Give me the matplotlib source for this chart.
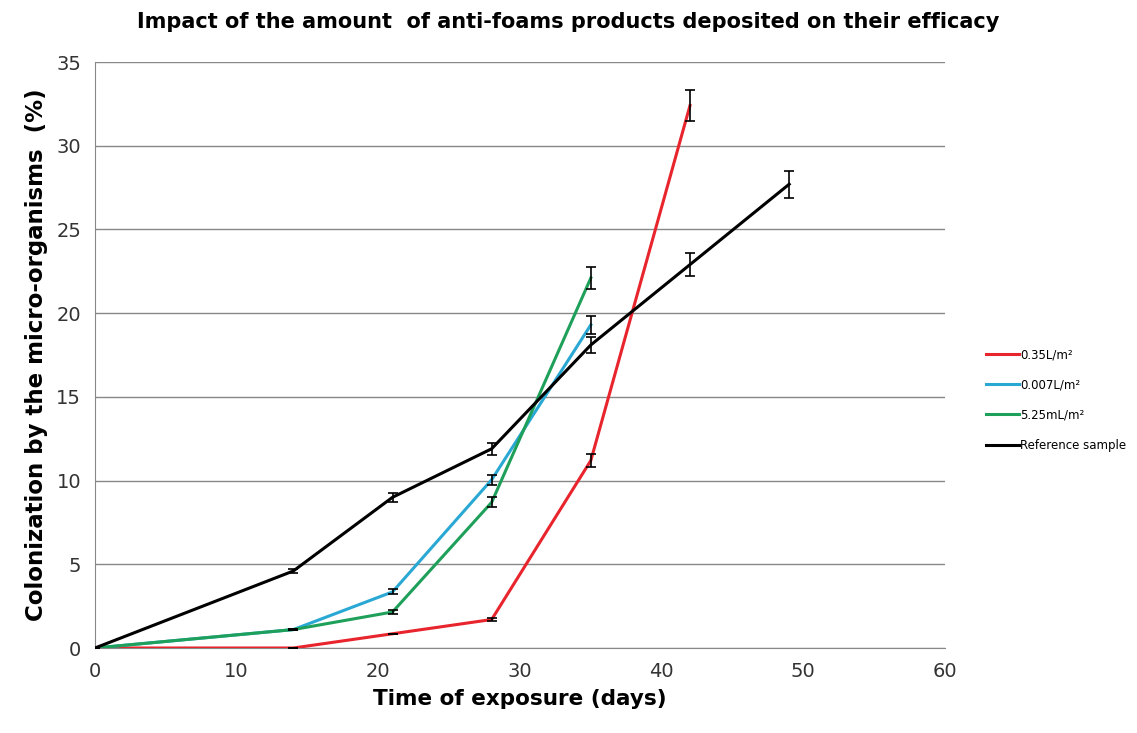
import matplotlib
matplotlib.use("Agg")
import matplotlib.pyplot as plt

days = [0, 14, 21, 28, 35, 42, 49]

red_x = [0, 14, 21, 28, 35, 42]
red_y = [0, 0, 0.85, 1.7, 11.2, 32.4]
red_err = [0, 0, 0, 0.1, 0.4, 0.95]

blue_x = [0, 14, 21, 28, 35]
blue_y = [0, 1.1, 3.35, 10.05, 19.3]
blue_err = [0, 0.05, 0.15, 0.3, 0.55]

green_x = [0, 14, 21, 28, 35]
green_y = [0, 1.1, 2.15, 8.7, 22.1]
green_err = [0, 0.05, 0.1, 0.3, 0.65]

black_x = [0, 14, 21, 28, 35, 42, 49]
black_y = [0, 4.6, 9.0, 11.9, 18.1, 22.9, 27.7]
black_err = [0, 0.1, 0.25, 0.35, 0.5, 0.7, 0.8]

labels = ["0.35L/m²", "0.007L/m²", "5.25mL/m²", "Reference sample"]
colors = ["#e8242c", "#2aa8d4", "#1fa05a", "#000000"]

fig = plt.figure(figsize=(11.37, 7.33), dpi=100)
ax = fig.add_axes([95 / 1137, 1 - 648 / 733, 850 / 1137, 586 / 733])

series = [(red_x, red_y, red_err), (blue_x, blue_y, blue_err),
          (green_x, green_y, green_err), (black_x, black_y, black_err)]
for (x, y, e), lab, c in zip(series, labels, colors):
    ax.plot(x, y, color=c, lw=2.2, label=lab, zorder=3)
    ax.errorbar(x, y, yerr=e, fmt="none", ecolor="black", elinewidth=1.2,
                capsize=3.5, capthick=1.2, zorder=4)

ax.set_xlim(0, 60)
ax.set_ylim(0, 35)
ax.set_xticks(range(0, 61, 10))
ax.set_yticks(range(0, 36, 5))
ax.yaxis.grid(True, color="#888888", lw=1)
ax.set_axisbelow(True)
for s in ["top", "right"]:
    ax.spines[s].set_visible(False)
for s in ["left", "bottom"]:
    ax.spines[s].set_color("#888888")
ax.tick_params(axis="both", length=0, labelsize=14, pad=10, labelcolor="#333333")

ax.set_xlabel("Time of exposure (days)", fontsize=15.5, fontweight="bold", labelpad=6)
ax.set_ylabel("Colonization by the micro-organisms  (%)", fontsize=16.5,
              fontweight="bold", labelpad=6)
fig.text(0.5, 1 - 22 / 733, "Impact of the amount  of anti-foams products deposited on their efficacy",
         ha="center", va="center", fontsize=15, fontweight="bold")

ax.legend(loc="center left", bbox_to_anchor=(880 / 850, 0.5 - 45 / 586),
          frameon=False, fontsize=8.5, handlelength=2.8, labelspacing=1.45,
          handletextpad=0.1)

fig.savefig("out.png", dpi=100)
